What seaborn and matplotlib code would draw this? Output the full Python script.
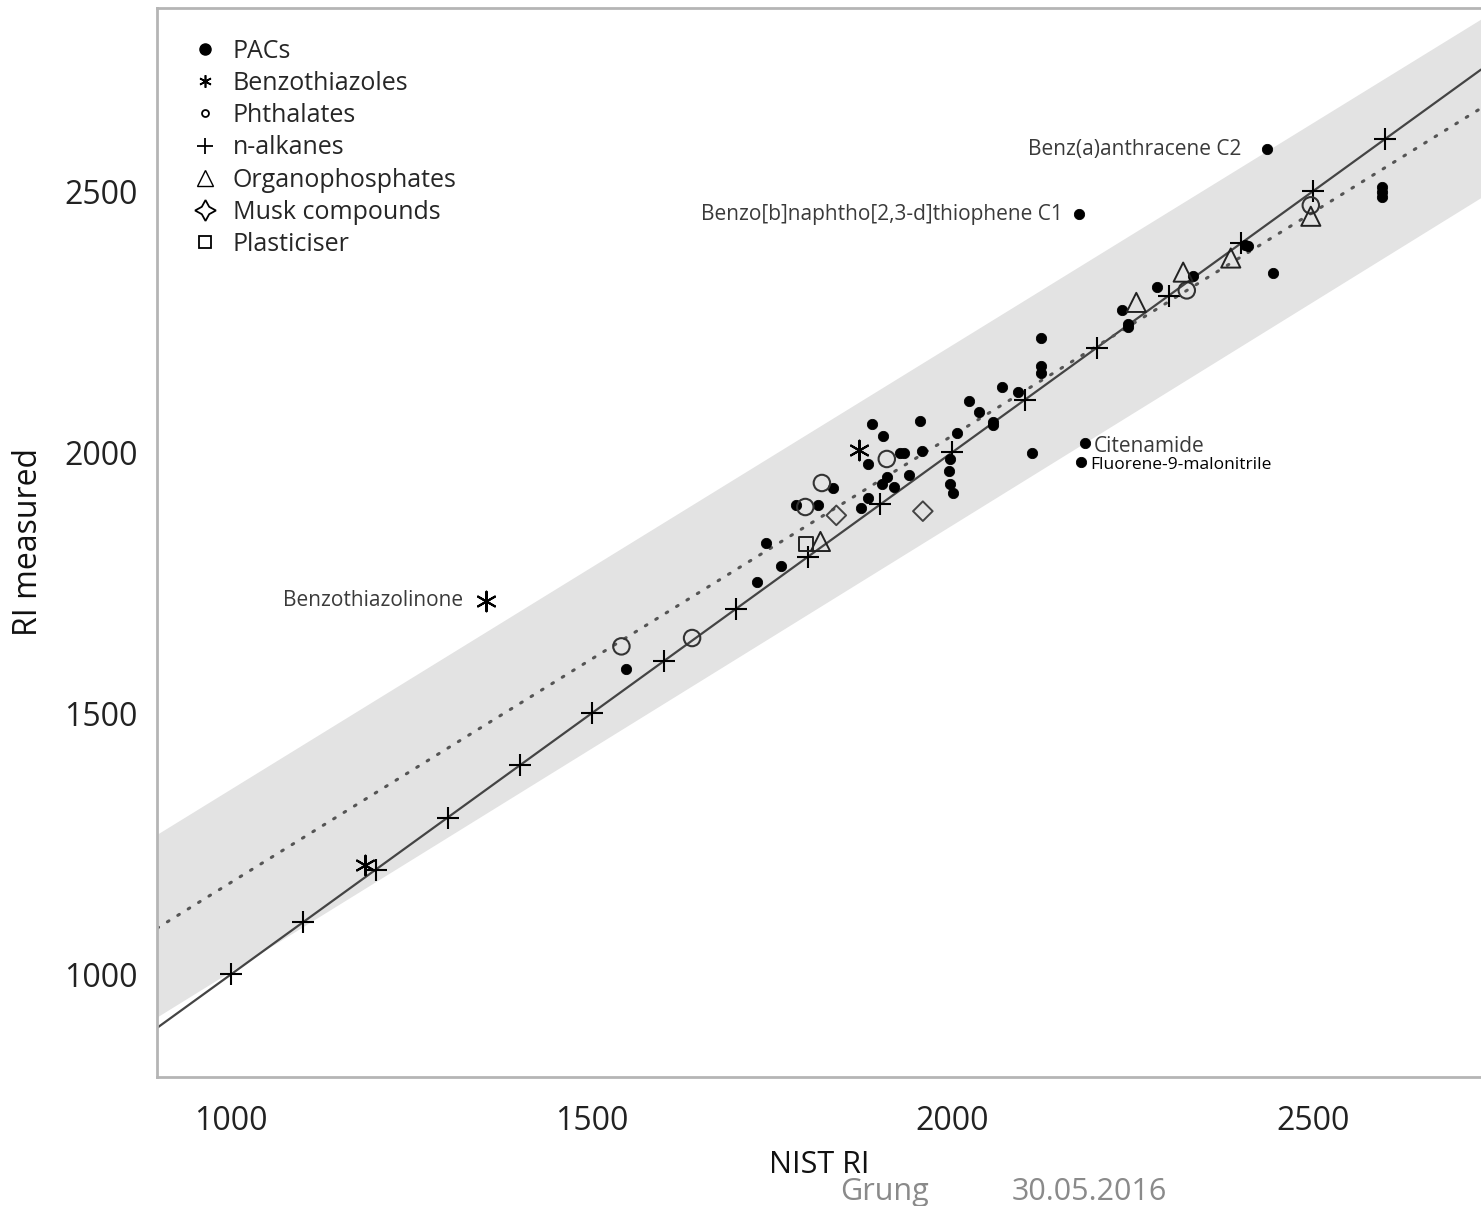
import matplotlib
matplotlib.use('Agg')
import matplotlib.pyplot as plt
from matplotlib.lines import Line2D
import seaborn as sns

# values (NIST RI, RI measured)
alkane_nist = [1000, 1100, 1200, 1300, 1400, 1500, 1600, 1700, 1800, 1900, 2000, 2100, 2200, 2300, 2400, 2500, 2600]
alkane_meas = [1000, 1100, 1200, 1300, 1400, 1500, 1600, 1700, 1800, 1900, 2000, 2100, 2200, 2300, 2400, 2500, 2600]

pac_nist = [1548, 1729, 1742, 1762, 1783, 1814, 1835, 1873, 1883, 1883, 1889, 1904, 1903, 1909, 1919,
            1927, 1933, 1940, 1955, 1958, 1997, 1995, 1997, 2001, 2006, 2023, 2037, 2056, 2056, 2069,
            2091, 2110, 2123, 2123, 2123, 2184, 2178, 2235, 2244, 2244, 2284, 2334, 2406, 2410, 2445,
            2596, 2596, 2596, 2436, 2176]
pac_meas = [1584, 1751, 1826, 1782, 1898, 1898, 1931, 1893, 1912, 1977, 2054, 2031, 1939, 1952, 1933,
            1998, 1998, 1956, 2059, 2002, 1987, 1964, 1939, 1921, 2036, 2098, 2077, 2057, 2052, 2124,
            2115, 1998, 2218, 2165, 2151, 2017, 1981, 2272, 2245, 2240, 2316, 2337, 2397, 2395, 2343,
            2508, 2498, 2489, 2580, 2456]

btz_nist = [1186, 1353, 1871]
btz_meas = [1209, 1715, 2004]

phth_nist = [1541, 1639, 1796, 1819, 1909, 2325, 2497]
phth_meas = [1628, 1644, 1895, 1941, 1987, 2310, 2473]

opf_nist = [1817, 2255, 2320, 2386, 2497]
opf_meas = [1829, 2287, 2345, 2372, 2452]

musk_nist = [1839, 1959]
musk_meas = [1879, 1887]

plast_nist = [1797]
plast_meas = [1824]

# fitted line, 1:1 line and grey band (end points)
line_x = [897, 2733]
fit_y = [1088, 2659]
band_hi = [1268, 2830]
band_lo = [918, 2488]

labels = ['PACs', 'Benzothiazoles', 'Phthalates', 'n-alkanes', 'Organophosphates', 'Musk compounds', 'Plasticiser']

sns.set_style('white')
plt.rcParams['font.family'] = ['Open Sans', 'DejaVu Sans']

fig = plt.figure(figsize=(14.81, 12.06), dpi=100)
ax = fig.add_axes([157 / 1481, 1 - 1077 / 1206, 1324 / 1481, 1069 / 1206])

ax.fill_between(line_x, band_lo, band_hi, color='#e3e3e3', lw=0, zorder=0)
ax.plot(line_x, line_x, color='#444444', lw=1.6, zorder=1)
ax.plot(line_x, fit_y, color='#555555', lw=2.2, ls=(0, (0.6, 3.4)), dash_capstyle='round', zorder=1)

sns.scatterplot(x=alkane_nist, y=alkane_meas, marker='+', s=230, color='black', linewidth=1.5, ax=ax, zorder=3)
sns.scatterplot(x=pac_nist, y=pac_meas, marker='o', s=55, color='black', edgecolor='black', ax=ax, zorder=3)
sns.scatterplot(x=btz_nist, y=btz_meas, marker=(6, 2, 0), s=200, color='black', linewidth=1.5, ax=ax, zorder=3)
sns.scatterplot(x=phth_nist, y=phth_meas, marker='o', s=140, facecolor='none', edgecolor='#333333', linewidth=1.5, ax=ax, zorder=3)
sns.scatterplot(x=opf_nist, y=opf_meas, marker='^', s=190, facecolor='none', edgecolor='#222222', linewidth=1.4, ax=ax, zorder=3)
sns.scatterplot(x=musk_nist, y=musk_meas, marker='D', s=100, facecolor='none', edgecolor='#444444', linewidth=1.4, ax=ax, zorder=3)
sns.scatterplot(x=plast_nist, y=plast_meas, marker='s', s=110, facecolor='none', edgecolor='#222222', linewidth=1.4, ax=ax, zorder=3)

# labelled compounds
ann = dict(textcoords='offset points', va='center', fontsize=15, color='#3a3a3a')
ax.annotate('Benz(a)anthracene C2', (pac_nist[48], pac_meas[48]), xytext=(-18, 0), ha='right', **ann)
ax.annotate('Benzo[b]naphtho[2,3-d]thiophene C1', (pac_nist[49], pac_meas[49]), xytext=(-12, 0), ha='right', **ann)
ax.annotate('Benzothiazolinone', (btz_nist[1], btz_meas[1]), xytext=(-16, 0), ha='right', **ann)
ax.annotate('Citenamide', (pac_nist[35], pac_meas[35]), xytext=(6, -2), ha='left', **ann)
ax.annotate('Fluorene-9-malonitrile', (pac_nist[36], pac_meas[36]), xytext=(7, -2), ha='left',
            textcoords='offset points', va='center', fontsize=12.5, color='black')

handles = [
    Line2D([], [], ls='', marker='o', ms=8, color='black'),
    Line2D([], [], ls='', marker=(6, 2, 0), ms=9, color='black', mew=1.2),
    Line2D([], [], ls='', marker='o', ms=5, mfc='none', mec='black', mew=1.3),
    Line2D([], [], ls='', marker='+', ms=12, color='black', mew=1.3),
    Line2D([], [], ls='', marker='^', ms=11, mfc='none', mec='black', mew=1.0),
    Line2D([], [], ls='', marker=(4, 1, 0), ms=15, mfc='none', mec='black', mew=1.3),
    Line2D([], [], ls='', marker='s', ms=8, mfc='none', mec='black', mew=1.3),
]
ax.legend(handles, labels, loc='upper left', bbox_to_anchor=(0.012, 0.99), frameon=False,
          fontsize=18, handlelength=1.0, handletextpad=0.6, labelspacing=0.29, borderpad=0.3)

ax.set_xlim(897, 2733)
ax.set_ylim(803, 2851)
ax.set_xticks([1000, 1500, 2000, 2500])
ax.set_yticks([1000, 1500, 2000, 2500])
ax.set_xticks([1250, 1750, 2250], minor=True)
ax.set_yticks([1250, 1750, 2250, 2750], minor=True)
ax.tick_params(which='both', direction='out', length=8, width=1.2, color='#9a9a9a',
               labelsize=23, labelcolor='#222222')
ax.tick_params(axis='x', which='major', pad=12)
ax.tick_params(axis='y', which='major', pad=6)

ax.set_xlabel('NIST RI', fontsize=22, labelpad=9, color='#111111')
ax.set_ylabel('RI measured', fontsize=23, labelpad=14, color='#111111')

for side in ['left', 'bottom', 'top']:
    ax.spines[side].set_color('#b5b5b5')
    ax.spines[side].set_linewidth(2)
ax.spines['right'].set_visible(False)

fig.text(840 / 1481, 1 - 1192 / 1206, 'Grung', fontsize=22, color='#8a8a8a', va='center', ha='left')
fig.text(1012 / 1481, 1 - 1192 / 1206, '30.05.2016', fontsize=22, color='#8a8a8a', va='center', ha='left')

fig.savefig('out.png', dpi=100)
